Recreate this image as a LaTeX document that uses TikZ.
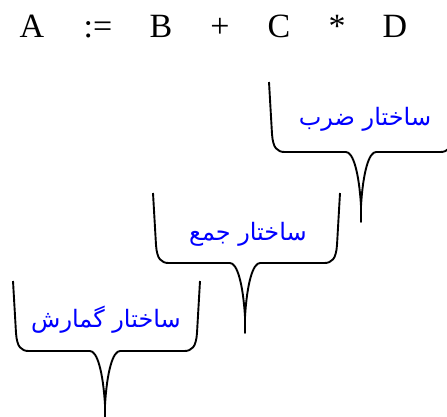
\documentclass[tikz,border=0pt]{standalone}
\usepackage{fontspec}
\setmainfont{Liberation Serif}
\newfontfamily\arabicfont[Script=Arabic]{DejaVu Sans}
\TeXXeTstate=1
\tikzset{
  tok/.style={anchor=base,inner sep=0pt,font=\fontsize{34}{38}\selectfont},
  lbl/.style={inner sep=0pt,text=blue,font=\arabicfont\fontsize{24}{28}\selectfont},
  bline/.style={line width=1.9pt,line join=round},
  pics/bracketshape/.style={code={
    \draw[bline] (0,0) -- (3,52) .. controls (4,66) and (8,70) .. (16,70) -- (77,70)
      .. controls (84,70) and (90,90) .. (92,124) -- (92,140) -- (92,124)
      .. controls (94,90) and (100,70) .. (107,70) -- (171,70)
      .. controls (179,70) and (183,66) .. (184,52) -- (187,0);
  }}
}
\begin{document}
\begin{tikzpicture}[x=1pt,y=-1pt]
\clip (0,0) rectangle (447,416);
\node[tok] (ta) at (32,37) {A};
\node[tok] (tassign) at (98,37) {:=};
\node[tok] (tb) at (161,37) {B};
\node[tok] (tplus) at (220,37) {+};
\node[tok] (tc) at (279,37) {C};
\node[tok] (tstar) at (337,37) {*};
\node[tok] (td) at (395,37) {D};
\pic at (269,82) {bracketshape};
\pic at (153,193) {bracketshape};
\pic at (13,281) {bracketshape};
\node[lbl] (lmul) at (365,119) {\beginR ساختار ضرب\endR};
\node[lbl] (ladd) at (248,234) {\beginR ساختار جمع\endR};
\node[lbl] (lasg) at (106,320) {\beginR ساختار گمارش\endR};
\end{tikzpicture}
\end{document}
